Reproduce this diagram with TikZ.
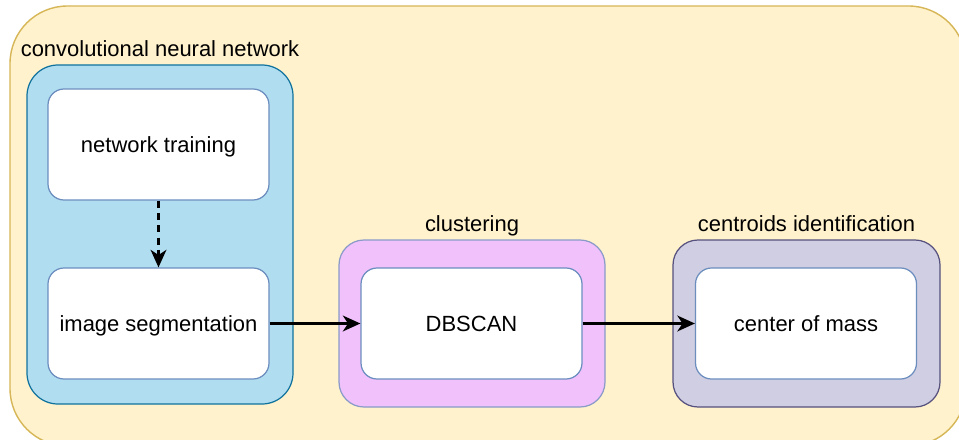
\documentclass[tikz,border=0pt]{standalone}
\usepackage{fontspec}
\setmainfont{Liberation Sans}
\usetikzlibrary{arrows.meta}
\definecolor{outerfill}{HTML}{FFF2CC}
\definecolor{outerline}{HTML}{D6B656}
\definecolor{cnnfill}{HTML}{B1DDF0}
\definecolor{cnnline}{HTML}{10739E}
\definecolor{clustfill}{HTML}{F0C1FB}
\definecolor{clustline}{HTML}{8A9BC9}
\definecolor{centrfill}{HTML}{D0CEE2}
\definecolor{centrline}{HTML}{56517E}
\definecolor{taskline}{HTML}{6C8EBF}
\tikzset{
  group/.style={draw, line width=0.7pt, rounded corners=0.62cm},
  grouplbl/.style={anchor=base, inner sep=0pt},
  task/.style={draw=taskline, fill=white, line width=0.7pt, rounded corners=0.32cm,
    minimum width=4.42cm, minimum height=2.22cm, text height=1.06em, text depth=0.2em},
  flow/.style={line width=1.3pt, -{Stealth[length=10pt,width=9pt,inset=3pt]}}
}
\begin{document}
\begin{tikzpicture}[font=\fontsize{12.5}{15}\selectfont]
  \useasboundingbox (0,0) rectangle (19.18,-8.78);
  \clip (0,0) rectangle (19.18,-8.78);
  \draw[fill=outerfill, draw=outerline, line width=0.8pt, rounded corners=1.15cm]
    (0.2,-0.12) rectangle (19.32,-8.92);
  % groups
  \node[group, fill=cnnfill, draw=cnnline, minimum width=5.32cm, minimum height=6.78cm]
    at (3.2, -4.69) (cnn) {};
  \node[group, fill=clustfill, draw=clustline, rounded corners=0.5cm,
    minimum width=5.32cm, minimum height=3.34cm] at (9.44, -6.47) (clust) {};
  \node[group, fill=centrfill, draw=centrline, rounded corners=0.5cm,
    minimum width=5.34cm, minimum height=3.34cm] at (16.13, -6.47) (centr) {};
  \node[grouplbl] at ([yshift=0.16cm]cnn.north) (cnnlbl) {convolutional neural network};
  \node[grouplbl] at ([yshift=0.16cm]clust.north) (clustlbl) {clustering};
  \node[grouplbl] at ([yshift=0.16cm]centr.north) (centrlbl) {centroids identification};
  % tasks
  \node[task] at (3.17, -2.89) (train) {network training};
  \node[task] at (3.17, -6.47) (seg) {image segmentation};
  \node[task] at (9.43, -6.47) (dbscan) {DBSCAN};
  \node[task] at (16.12, -6.47) (com) {center of mass};
  \draw[flow, dash pattern=on 4pt off 3pt] (train) -- (seg);
  \draw[flow] (seg) -- (dbscan);
  \draw[flow] (dbscan) -- (com);
\end{tikzpicture}
\end{document}
